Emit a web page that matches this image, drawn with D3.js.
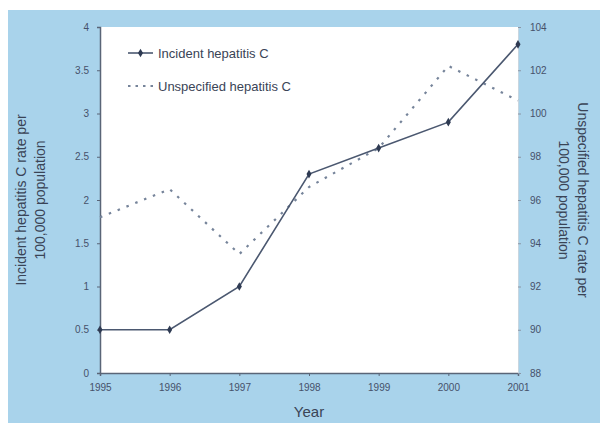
<!DOCTYPE html>
<html>
<head>
<meta charset="utf-8">
<script src="https://cdn.jsdelivr.net/npm/d3@7"></script>
<style>
  body { margin: 0; background: #fff; }
  svg { font-family: "Liberation Sans", Arial, sans-serif; }
  .tick text { fill: #46516a; font-size: 10px; }
</style>
</head>
<body>
<div id="chart"></div>
<script>
const years = [1995, 1996, 1997, 1998, 1999, 2000, 2001];
const incident = [0.5, 0.5, 1.0, 2.3, 2.6, 2.9, 3.8];
const unspecified = [95.2, 96.5, 93.5, 96.6, 98.4, 102.2, 100.6];
const leftTicks = [0, 0.5, 1, 1.5, 2, 2.5, 3, 3.5, 4];
const rightTicks = [88, 90, 92, 94, 96, 98, 100, 102, 104];

const W = 605, H = 425;
const margin = {top: 27, right: 87, bottom: 52, left: 100};

const svg = d3.select("#chart")
  .append("svg")
  .attr("width", W)
  .attr("height", H);

// blue panel
svg.append("rect")
  .attr("x", 8).attr("y", 10)
  .attr("width", 592).attr("height", 413)
  .attr("fill", "#a9d3eb");

const x = d3.scaleLinear()
  .domain([1995, 2001])
  .range([margin.left, W - margin.right]);

const yL = d3.scaleLinear()
  .domain([0, 4])
  .range([H - margin.bottom, margin.top]);

const yR = d3.scaleLinear()
  .domain([88, 104])
  .range([H - margin.bottom, margin.top]);

// plot area
svg.append("rect")
  .attr("x", margin.left).attr("y", margin.top)
  .attr("width", W - margin.right - margin.left)
  .attr("height", H - margin.bottom - margin.top)
  .attr("fill", "#fff");

const axisColor = "#5a6577";

const gx = svg.append("g")
  .attr("transform", `translate(0,${H - margin.bottom})`)
  .call(d3.axisBottom(x).tickValues(years).tickFormat(d3.format("d")).tickSize(3).tickPadding(8));

const gl = svg.append("g")
  .attr("transform", `translate(${margin.left},0)`)
  .call(d3.axisLeft(yL).tickValues(leftTicks).tickFormat(d => String(d)).tickSize(3).tickPadding(8));

const gr = svg.append("g")
  .attr("transform", `translate(${W - margin.right},0)`)
  .call(d3.axisRight(yR).tickValues(rightTicks).tickSize(3).tickPadding(9));

[gx, gl].forEach(g => {
  g.select(".domain").attr("stroke", axisColor).attr("stroke-width", 1.5);
  g.selectAll(".tick line").attr("stroke", axisColor);
});
gr.select(".domain").attr("stroke", "#c8d6e0").attr("stroke-width", 1);
gr.selectAll(".tick line").attr("stroke", "#8a96a6");

const lineColor = "#4b5870";
const dotColor = "#76849a";

// unspecified (dotted, right axis)
svg.append("path")
  .datum(unspecified)
  .attr("fill", "none")
  .attr("stroke", dotColor)
  .attr("stroke-width", 2.2)
  .attr("stroke-dasharray", "2.5,7")
  .attr("d", d3.line().x((d, i) => x(years[i])).y(d => yR(d)));

// incident (solid with markers, left axis)
svg.append("path")
  .datum(incident)
  .attr("fill", "none")
  .attr("stroke", lineColor)
  .attr("stroke-width", 1.6)
  .attr("d", d3.line().x((d, i) => x(years[i])).y(d => yL(d)));

svg.selectAll(".pt")
  .data(incident)
  .join("path")
  .attr("class", "pt")
  .attr("transform", (d, i) => `translate(${x(years[i])},${yL(d)})`)
  .attr("d", d3.symbol(d3.symbolDiamond, 22))
  .attr("fill", "#2e3a52");

// legend
const legend = svg.append("g").attr("transform", "translate(128,53)");
legend.append("line")
  .attr("x1", 0).attr("x2", 25).attr("y1", 0).attr("y2", 0)
  .attr("stroke", lineColor).attr("stroke-width", 1.6);
legend.append("path")
  .attr("transform", "translate(12.5,0)")
  .attr("d", d3.symbol(d3.symbolDiamond, 22))
  .attr("fill", "#2e3a52");
legend.append("text")
  .attr("x", 30).attr("y", 4.5)
  .attr("font-size", 13).attr("fill", "#3a4456")
  .text("Incident hepatitis C");
legend.append("line")
  .attr("x1", 0).attr("x2", 25).attr("y1", 33).attr("y2", 33)
  .attr("stroke", dotColor).attr("stroke-width", 2.2)
  .attr("stroke-dasharray", "2.5,5");
legend.append("text")
  .attr("x", 30).attr("y", 37.5)
  .attr("font-size", 13).attr("fill", "#3a4456")
  .text("Unspecified hepatitis C");

// axis titles
const cy = (margin.top + H - margin.bottom) / 2;
svg.append("text")
  .attr("x", x(1998)).attr("y", 417)
  .attr("text-anchor", "middle")
  .attr("font-size", 15).attr("fill", "#3a4456")
  .text("Year");

const lt = svg.append("text")
  .attr("transform", `translate(26,${cy}) rotate(-90)`)
  .attr("text-anchor", "middle")
  .attr("font-size", 14).attr("fill", "#3a4456");
lt.append("tspan").attr("x", 0).attr("dy", 0).text("Incident hepatitis C rate per");
lt.append("tspan").attr("x", 0).attr("dy", 19).text("100,000 population");

const rt = svg.append("text")
  .attr("transform", `translate(578,${cy}) rotate(90)`)
  .attr("text-anchor", "middle")
  .attr("font-size", 14).attr("fill", "#3a4456");
rt.append("tspan").attr("x", 0).attr("dy", 0).text("Unspecified hepatitis C rate per");
rt.append("tspan").attr("x", 0).attr("dy", 19).text("100,000 population");
</script>
</body>
</html>
